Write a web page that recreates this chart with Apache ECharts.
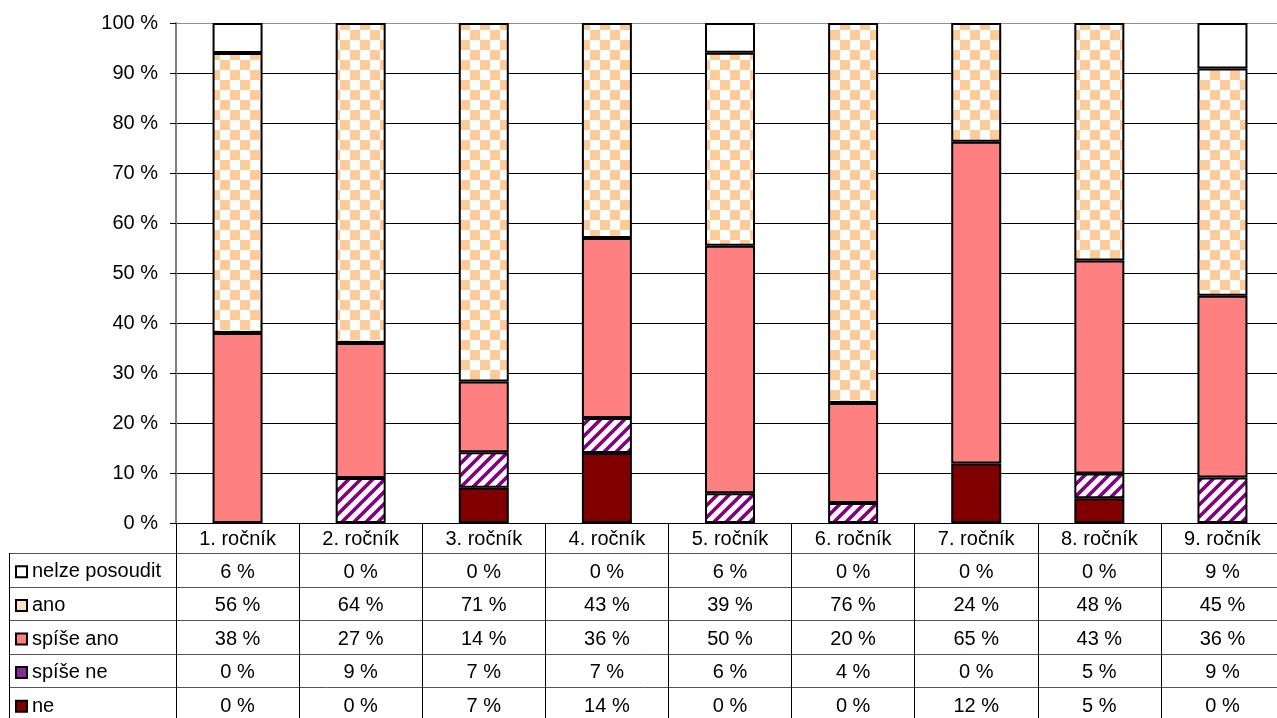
<!DOCTYPE html>
<html>
<head>
<meta charset="utf-8">
<script src="https://cdn.jsdelivr.net/npm/echarts@6/dist/echarts.min.js"></script>
<style>
    html, body {margin: 0; padding: 0; background: #fff;}
    #chart {width: 1277px; height: 718px;}
</style>
</head>
<body>
<div id="chart"></div>
<script>
    // data (table values, %)
    const categories = ['1. ročník', '2. ročník', '3. ročník', '4. ročník', '5. ročník', '6. ročník', '7. ročník', '8. ročník', '9. ročník'];
    const rowNames = ['nelze posoudit', 'ano', 'spíše ano', 'spíše ne', 'ne'];
    const nelzePosoudit = [6, 0, 0, 0, 6, 0, 0, 0, 9];
    const ano = [56, 64, 71, 43, 39, 76, 24, 48, 45];
    const spiseAno = [38, 27, 14, 36, 50, 20, 65, 43, 36];
    const spiseNe = [0, 9, 7, 7, 6, 4, 0, 5, 9];
    const ne = [0, 0, 7, 14, 0, 0, 12, 5, 0];
    const rows = [nelzePosoudit, ano, spiseAno, spiseNe, ne];

    const FONT = '"Liberation Sans", Arial, sans-serif';
    const FS = 20;

    // layout of the plot + data table
    const gridLeft = 176, gridTop = 23, gridH = 500, gridW = 1108;
    const axisY = gridTop + gridH;      // 523
    const headerH = 30;
    const rowH = 33.6;
    const tableLeft = 9;

    // patterns
    function checker() {
        const c = document.createElement('canvas');
        c.width = 20; c.height = 20;
        const ctx = c.getContext('2d');
        ctx.fillStyle = '#fff';
        ctx.fillRect(0, 0, 20, 20);
        ctx.fillStyle = '#FFCC99';
        ctx.fillRect(0, 0, 10, 10);
        ctx.fillRect(10, 10, 10, 10);
        return c;
    }
    function stripes() {
        const n = 12;
        const c = document.createElement('canvas');
        c.width = n; c.height = n;
        const ctx = c.getContext('2d');
        ctx.fillStyle = '#fff';
        ctx.fillRect(0, 0, n, n);
        ctx.strokeStyle = '#800080';
        ctx.lineWidth = 3.6;
        ctx.beginPath();
        ctx.moveTo(-2, n + 2); ctx.lineTo(n + 2, -2);
        ctx.moveTo(-2, 2); ctx.lineTo(2, -2);
        ctx.moveTo(n - 2, n + 2); ctx.lineTo(n + 2, n - 2);
        ctx.stroke();
        return c;
    }

    const fills = {
        'nelze posoudit': '#ffffff',
        'ano': {image: checker(), repeat: 'repeat'},
        'spíše ano': '#FF8080',
        'spíše ne': {image: stripes(), repeat: 'repeat'},
        'ne': '#800000'
    };
    const legendFills = {
        'nelze posoudit': '#ffffff',
        'ano': '#FFE2C6',
        'spíše ano': '#FF8080',
        'spíše ne': '#8A2A9A',
        'ne': '#800000'
    };

    // 100 % stacked: every column is scaled to its own total, empty parts are left out
    const totals = categories.map((c, i) => rows.reduce((s, r) => s + r[i], 0));
    const toPct = arr => arr.map((v, i) => v === 0 ? '-' : v * 100 / totals[i]);

    const stackOrder = [ne, spiseNe, spiseAno, ano, nelzePosoudit];
    const stackNames = ['ne', 'spíše ne', 'spíše ano', 'ano', 'nelze posoudit'];

    const series = stackOrder.map((arr, k) => ({
        type: 'bar',
        name: stackNames[k],
        stack: 'total',
        barWidth: 50,
        data: toPct(arr),
        itemStyle: {color: fills[stackNames[k]], borderColor: '#000', borderWidth: 2},
        emphasis: {disabled: true}
    }));

    // one hidden x axis per table row, its labels are the row values
    const rowAxes = rows.map((r, k) => ({
        type: 'category',
        gridIndex: 0,
        position: 'bottom',
        offset: headerH + k * rowH,
        data: categories,
        axisLine: {show: false},
        axisTick: {show: false},
        axisLabel: {
            interval: 0,
            margin: 9,
            color: '#000',
            fontFamily: FONT,
            fontSize: FS,
            formatter: (v, i) => r[i] + ' %'
        }
    }));

    const graphics = [];
    const rightEdge = gridLeft + gridW;
    for (let k = 0; k < rows.length; k++) {
        const y = Math.round(axisY + headerH + k * rowH) + 0.5;
        graphics.push({
            type: 'line', silent: true,
            shape: {x1: tableLeft, y1: y, x2: rightEdge, y2: y},
            style: {stroke: '#555', lineWidth: 1}
        });
    }
    graphics.push({
        type: 'line', silent: true,
        shape: {x1: tableLeft + 0.5, y1: axisY + headerH, x2: tableLeft + 0.5, y2: 718},
        style: {stroke: '#000', lineWidth: 1}
    });

    const chart = echarts.init(document.getElementById('chart'));
    chart.setOption({
        animation: false,
        textStyle: {fontFamily: FONT},
        grid: {left: gridLeft, top: gridTop, width: gridW, height: gridH, containLabel: false, outerBoundsMode: 'none'},
        legend: {
            orient: 'vertical',
            left: 15,
            top: axisY + headerH + rowH / 2 - 8,
            padding: 0,
            itemGap: rowH - 20,
            itemWidth: 11,
            itemHeight: 11,
            itemTextGap: 4,
            selectedMode: false,
            textStyle: {color: '#000', fontFamily: FONT, fontSize: FS, lineHeight: 20},
            data: rowNames.map(n => ({
                name: n,
                icon: 'rect',
                itemStyle: {color: legendFills[n], borderColor: '#000', borderWidth: 2}
            }))
        },
        xAxis: [{
            type: 'category',
            data: categories,
            axisLine: {lineStyle: {color: '#000', width: 1}},
            axisTick: {
                show: true,
                interval: 0,
                alignWithLabel: false,
                length: 718 - axisY,
                lineStyle: {color: '#000', width: 1}
            },
            axisLabel: {interval: 0, margin: 6, color: '#000', fontFamily: FONT, fontSize: FS}
        }].concat(rowAxes),
        yAxis: {
            type: 'value',
            min: 0,
            max: 100,
            interval: 10,
            axisLine: {show: true, lineStyle: {color: '#808080', width: 2}},
            axisTick: {show: true, length: 6, lineStyle: {color: '#000'}},
            axisLabel: {margin: 18, color: '#000', fontFamily: FONT, fontSize: FS, formatter: '{value} %'},
            splitLine: {
                show: true,
                lineStyle: {
                    color: ['#000', '#000', '#000', '#000', '#000', '#000', '#000', '#000', '#000', '#000', '#909090'],
                    width: 1
                }
            }
        },
        graphic: graphics,
        series: series
    });
</script>
</body>
</html>
